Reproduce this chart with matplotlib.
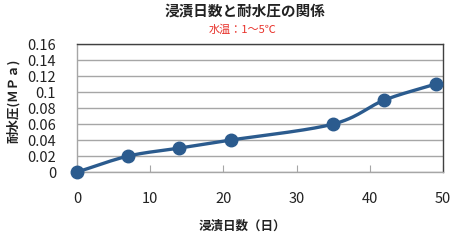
import numpy as np
import matplotlib
matplotlib.use("Agg")
import matplotlib.pyplot as plt

plt.rcParams['font.family'] = ['Noto Sans CJK JP', 'DejaVu Sans']

days = [0, 7, 14, 21, 35, 42, 49]
pressure = [0, 0.02, 0.03, 0.04, 0.06, 0.09, 0.11]
xticks = [0, 10, 20, 30, 40, 50]
yticks = [0, 0.02, 0.04, 0.06, 0.08, 0.1, 0.12, 0.14, 0.16]
ytick_labels = ["0", "0.02", "0.04", "0.06", "0.08", "0.1", "0.12", "0.14", "0.16"]

def smooth(x, y, n=30):
    x = np.asarray(x, float); y = np.asarray(y, float)
    px = np.concatenate([[2*x[0]-x[1]], x, [2*x[-1]-x[-2]]])
    py = np.concatenate([[2*y[0]-y[1]], y, [2*y[-1]-y[-2]]])
    xs, ys = [], []
    for i in range(1, len(px)-2):
        p0x, p1x, p2x, p3x = px[i-1:i+3]
        p0y, p1y, p2y, p3y = py[i-1:i+3]
        t = np.linspace(0, 1, n)
        b1x = p1x + (p2x - p0x)/6; b1y = p1y + (p2y - p0y)/6
        b2x = p2x - (p3x - p1x)/6; b2y = p2y - (p3y - p1y)/6
        bx = (1-t)**3*p1x + 3*(1-t)**2*t*b1x + 3*(1-t)*t**2*b2x + t**3*p2x
        by = (1-t)**3*p1y + 3*(1-t)**2*t*b1y + 3*(1-t)*t**2*b2y + t**3*p2y
        xs.extend(bx); ys.extend(by)
    return np.array(xs), np.array(ys)

fig = plt.figure(figsize=(4.65, 2.42), dpi=100)
ax = fig.add_axes([0.1656, 0.289, 0.7871, 0.529])
color = "#2b5b8e"
sx, sy = smooth(days, pressure)
ax.plot(sx, sy, color=color, lw=2.4, zorder=3, clip_on=False)
ax.plot(days, pressure, 'o', color=color, ms=9, zorder=4, clip_on=False)

ax.set_xlim(0, 50)
ax.set_ylim(0, 0.16)
ax.set_xticks(xticks)
ax.set_yticks(yticks)
ax.set_yticklabels(ytick_labels)
ax.grid(axis='y', color='#a6a6a6', lw=1.0)
ax.set_axisbelow(True)
for s in ['top', 'right']:
    ax.spines[s].set_color('#404040')
    ax.spines[s].set_linewidth(1.0)
for s in ['left', 'bottom']:
    ax.spines[s].set_color('#a6a6a6')
    ax.spines[s].set_linewidth(1.0)
ax.tick_params(axis='x', direction='in', length=5, color='#a6a6a6', pad=14, labelsize=10.5, labelcolor='#222222')
ax.tick_params(axis='y', length=0, pad=15, labelsize=10.5, labelcolor='#222222')

ax.set_xlabel("浸漬日数（日）", fontsize=9, fontweight='bold', color='#222222')
ax.xaxis.set_label_coords((242 - 77) / 366, -(220 - 172) / 128)
ax.set_ylabel("耐水圧(ＭＰａ)", fontsize=9, fontweight='bold', color='#222222')
ax.yaxis.set_label_coords((20 - 77) / 366, (172 - 101) / 128)
fig.text(245 / 465, 0.955, "浸漬日数と耐水圧の関係", ha='center', va='center', fontsize=10.5, fontweight='bold', color='#222222')
fig.text(243 / 465, 0.878, "水温：1～5℃", ha='center', va='center', fontsize=8, color='#e8312a')

fig.savefig("out.png", dpi=100)
